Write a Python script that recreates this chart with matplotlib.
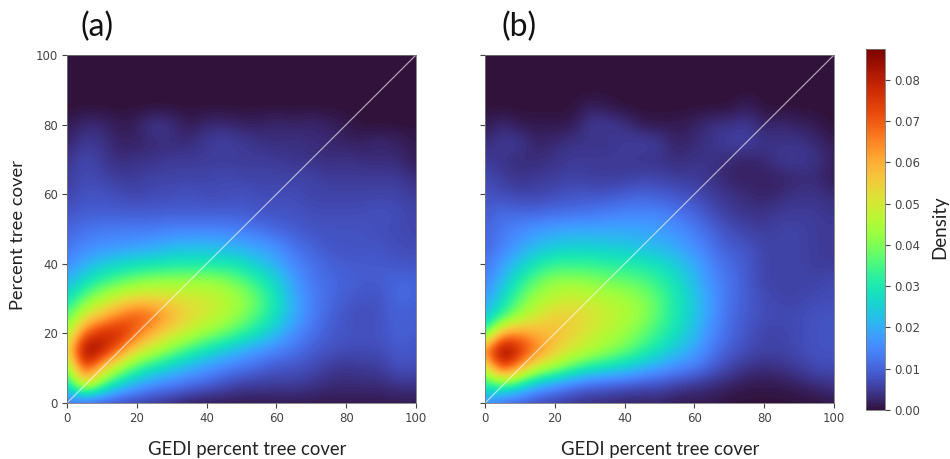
import numpy as np
import matplotlib
matplotlib.use("Agg")
import matplotlib.pyplot as plt

W, H = 950, 459
axis_ticks = [0, 20, 40, 60, 80, 100]
cbar_ticks = [0.0, 0.01, 0.02, 0.03, 0.04, 0.05, 0.06, 0.07, 0.08]
density_max = 0.0875
x_label = "GEDI percent tree cover"
y_label = "Percent tree cover"
cbar_label = "Density"
panel_labels = ["(a)", "(b)"]

# density x 1000; rows run from cover=100 down to cover=0 in steps of 5, columns GEDI=0..100 in steps of 5
zero = [0] * 21
density_a = [
    zero, zero, zero, zero,
    [1,3,3,1,2,5,4,1,3,3,2,2,3,2,3,2,1,0,0,0,0],
    [2,5,4,2,2,3,3,3,5,6,5,4,3,4,3,3,2,2,3,2,1],
    [4,7,5,3,4,4,5,5,5,5,5,5,5,4,4,3,4,3,3,3,1],
    [5,7,6,5,5,6,6,6,6,7,6,6,6,6,6,5,5,5,5,5,3],
    [6,8,8,7,6,7,7,8,7,7,8,7,7,7,6,6,6,6,6,6,5],
    [8,9,9,9,9,9,9,9,9,9,9,8,8,8,7,7,7,7,8,7,6],
    [10,12,13,13,13,13,14,14,14,14,13,12,10,9,8,8,8,8,7,7,6],
    [12,15,16,17,18,19,21,22,22,21,20,18,16,12,10,8,8,8,8,7,7],
    [15,20,24,26,28,29,30,30,30,30,28,24,20,15,12,10,9,9,9,8,8],
    [20,28,33,37,40,42,42,43,43,41,37,32,26,18,13,11,10,9,9,11,10],
    [28,38,45,50,54,54,53,51,50,47,43,37,29,20,14,11,9,8,8,11,10],
    [35,50,58,66,72,68,60,54,50,46,41,35,28,20,14,10,8,7,8,10,9],
    [42,70,78,80,68,58,52,47,42,38,33,28,22,16,12,9,8,8,8,10,9],
    [50,89,82,66,52,46,39,33,28,24,20,17,14,12,9,8,7,7,7,9,8],
    [38,76,55,43,34,28,24,20,17,14,12,10,8,8,7,5,4,5,5,8,7],
    [25,52,36,25,19,15,13,11,9,7,5,5,5,5,4,3,3,3,3,4,4],
    [12,8,7,6,5,4,3,1,1,1,1,1,1,1,1,1,1,1,1,1,1],
]
density_b = [
    zero, zero, zero,
    [0,0,0,0,0,0,2,1,0,0,0,0,0,0,0,2,0,0,0,0,0],
    [1,3,1,1,1,1,5,5,4,1,1,1,2,4,4,5,2,3,2,1,0],
    [3,5,5,2,3,4,4,4,5,6,5,2,3,4,6,6,4,4,4,3,1],
    [5,4,3,3,4,5,5,5,5,4,4,3,4,4,3,2,3,5,5,4,2],
    [7,5,4,5,5,6,5,5,5,6,6,5,5,4,2,2,2,2,3,3,1],
    [8,7,6,6,7,8,8,8,9,10,9,8,7,5,4,3,2,3,4,4,3],
    [9,11,10,10,11,11,12,13,14,14,14,12,10,7,5,4,4,5,5,5,4],
    [10,13,15,17,18,19,19,19,19,19,18,16,13,10,7,6,5,6,6,5,5],
    [10,14,18,22,24,25,25,24,24,22,21,19,16,12,9,8,6,6,6,5,5],
    [12,18,24,30,33,33,33,32,31,30,28,24,20,14,11,9,6,6,6,5,5],
    [14,22,31,38,42,42,41,39,38,36,33,28,22,16,12,9,6,6,6,6,7],
    [17,27,37,44,47,50,48,46,44,41,36,30,24,17,12,9,7,6,6,7,7],
    [22,33,43,50,55,55,52,49,46,42,36,30,24,17,11,9,7,7,7,8,8],
    [33,62,64,60,58,54,50,46,43,38,33,28,22,15,11,8,6,6,7,8,8],
    [66,91,78,66,56,50,46,42,38,33,28,23,19,13,9,7,6,6,7,8,8],
    [45,76,60,47,42,35,30,27,25,21,18,15,13,9,6,4,3,4,5,7,7],
    [30,35,28,20,16,12,10,9,8,7,7,5,4,3,2,1,1,1,2,3,4],
    [16,10,8,6,5,4,3,3,2,2,2,1,1,1,0,0,0,0,0,0,1],
]

plt.rcParams['font.family'] = 'DejaVu Sans'
fig = plt.figure(figsize=(W / 100, H / 100), dpi=100, facecolor='white')

def box(l, t, r, b):
    return [l / W, 1 - b / H, (r - l) / W, (b - t) / H]

tick_c = '#444444'
panels = [(density_a, 67, 416, True, panel_labels[0], 97, 247.5),
          (density_b, 485, 834, False, panel_labels[1], 519, 660.5)]
for grid, left, right, show_y, tag, tag_x, lab_x in panels:
    ax = fig.add_axes(box(left, 55, right, 403))
    im = ax.imshow(np.array(grid) / 1000, cmap='turbo', vmin=0, vmax=density_max,
                   extent=[-2.5, 102.5, -2.5, 102.5], origin='upper',
                   interpolation='bicubic', interpolation_stage='data', aspect='auto')
    ax.set_xlim(0, 100)
    ax.set_ylim(0, 100)
    ax.plot([0, 100], [0, 100], color='white', alpha=0.6, lw=0.9)
    ax.set_xticks(axis_ticks)
    ax.set_yticks(axis_ticks)
    ax.tick_params(length=3.5, width=0.8, color=tick_c, labelcolor=tick_c, labelsize=8.5, pad=3,
                   labelleft=show_y)
    for s in ax.spines.values():
        s.set_linewidth(0.6)
        s.set_color('#777777')
    fig.text(lab_x / W, 1 - 449 / H, x_label,
             family='Lato', fontsize=13.35, color='#222222', ha='center', va='center')
    fig.text(tag_x / W, 1 - 27 / H, tag, family='Lato', fontsize=23, color='#111111',
             ha='center', va='center')

fig.text(18 / W, 1 - 235 / H, y_label, family='Lato', fontsize=13.2, color='#222222',
         rotation=90, ha='center', va='center')

cax = fig.add_axes(box(866, 49, 885, 410))
cb = fig.colorbar(im, cax=cax)
cb.set_ticks(cbar_ticks)
cb.ax.set_yticklabels([f"{t:.2f}" for t in cbar_ticks])
cb.ax.tick_params(length=3.5, width=0.8, color=tick_c, labelcolor=tick_c, labelsize=8.5, pad=3)
cb.outline.set_linewidth(0.6)
cb.outline.set_edgecolor('#777777')
fig.text(940 / W, 1 - 227.5 / H, cbar_label, family='Lato', fontsize=13.5, color='#222222',
         rotation=90, ha='center', va='center')

fig.savefig('out.png', dpi=100, facecolor='white')
